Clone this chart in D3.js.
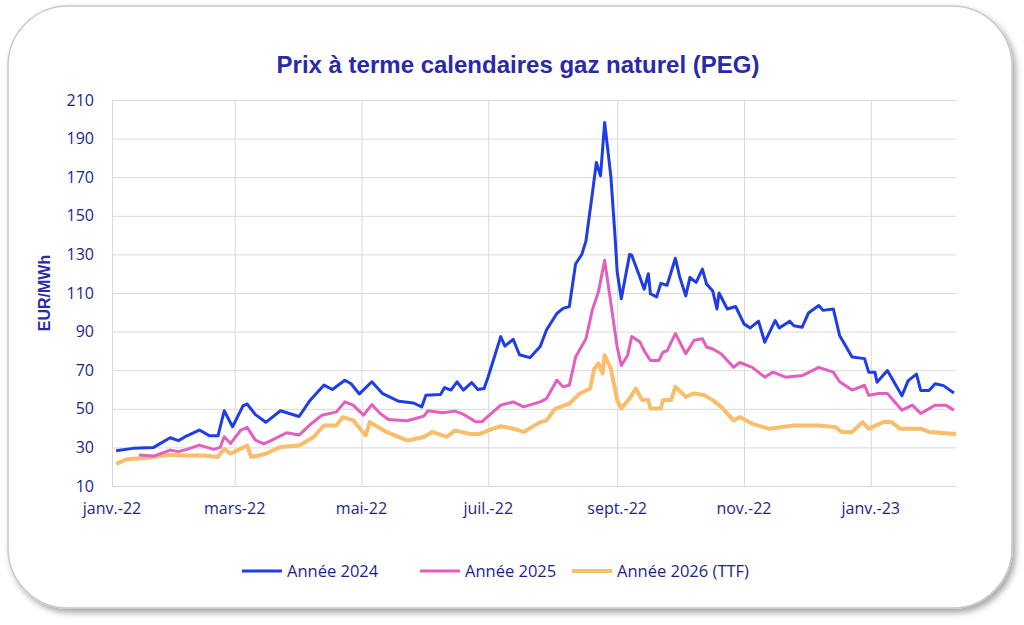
<!DOCTYPE html>
<meta charset="utf-8">
<style>
  body { margin: 0; background: #fff; font-family: "Open Sans", "Noto Sans", sans-serif; }
  .grid line { stroke: #d9d9d9; }
  .grid path { display: none; }
</style>
<script src="https://d3js.org/d3.v7.min.js"></script>
<div id="chart"></div>
<script>
// days since 2022-01-01 and EUR/MWh
var days2024 = [2,10,20,28,32,36,42,47,51,54,58,63,65,69,74,81,90,95,102,106,112,115,119,125,130,138,145,149,151,158,160,163,166,169,173,176,179,181,187,189,193,196,201,206,209,214,217,220,223,226,228,231,233,235,237,240,242,243,245,249,250,254,256,258,259,262,264,267,271,273,276,278,281,284,286,289,291,292,296,300,304,307,311,314,319,321,326,328,332,335,340,342,347,350,356,362,364,367,368,373,380,383,387,389,393,396,400,405];
var val2024 = [28.3,29.5,30,35,33.5,36,39,36,36,49,40.7,51.5,52.5,47,43,49,46,54,62.3,60,64.8,63,57.7,64,58,53.9,53,51,57,57.4,61,59.7,64,59.7,63.6,60,60.5,66.7,87.4,82.5,86,78,76.5,82.3,90.8,99.4,102,103,125,130,137,161,177.6,170.7,198.4,170,139,121,107,130,129.6,118,112,120,109.6,108,115,114,128,118.7,108.5,118,115.5,122.4,114.6,111,101.7,110,101.7,103,94,91.9,95.4,84.5,95.7,91.9,95.4,93,92.3,99.6,103.5,101,101.7,88,76.8,76,69,69,63.8,69.8,56.8,64.6,68,59.5,59.5,63,62,58.2];

var days2025 = [13,20,28,32,36,42,49,52,54,57,62,65,69,73,77,84,90,96,101,108,112,116,121,125,129,133,142,146,150,152,159,165,169,175,178,181,187,193,198,206,209,214,217,220,223,228,231,234,237,240,243,245,248,250,254,256,259,263,265,267,271,276,280,284,286,289,293,299,302,308,314,318,324,332,340,347,350,356,362,364,369,373,380,385,389,396,401,405];
var val2025 = [26,25.5,28.6,27.8,29,31.2,29,30,35.5,32,39,40.4,33.8,31.8,33.8,37.6,36.4,42.4,46.7,48.4,53.6,51.9,46.7,52.2,47.6,44.5,43.8,45,46.2,49,48,48.8,47.2,43.3,43.3,46.2,51.9,53.6,51,53.6,55.3,64.8,61.4,62.2,76.8,86.3,101,110.6,127,104.5,82,72.5,77.6,87.5,84.6,80,75,75,79.3,80,89,78.5,85.5,86.3,82,81,78.5,71.5,74,71.5,66.4,69,66.4,67.2,71.5,69,64,59.7,62.2,57,57.9,57.9,49.3,51.9,47.6,51.9,51.9,49.3];

var days2026 = [2,7,16,27,36,44,51,54,57,65,67,74,81,90,97,102,108,111,116,122,124,132,142,150,154,161,165,172,177,181,187,193,198,206,209,213,220,225,230,232,234,236,237,240,243,245,249,252,255,258,259,264,265,269,271,276,280,285,289,293,299,302,308,316,328,340,348,351,356,361,364,371,375,379,389,393,406];
var val2026 = [21.5,23.8,24.5,26.2,25.8,25.8,25,29.3,26.7,31,25,26.7,30.2,31,35.4,41.4,41.4,45.7,44,36.2,43.1,38,33.6,35.4,38,35.4,38.8,37,37,38.8,41,39.7,38,43.1,44,50,52.7,57.9,60.5,70.8,73.4,68.3,77.7,70.8,54.5,50.2,55.4,60.5,54.5,54.5,50.2,50.2,54.5,54.5,61.4,56.2,58,57,54.5,51,44,45.7,42.2,39.7,41.4,41.4,40.5,38,38,43.1,39.7,43.1,43.1,39.7,39.7,38,37];

var seriesNames = ["Année 2024", "Année 2025", "Année 2026 (TTF)"];
var seriesColors = ["#1f3de6", "#e35fbf", "#f9bd6b"];
var yTicks = [10,30,50,70,90,110,130,150,170,190,210];
var xTickLabels = ["janv.-22","mars-22","mai-22","juil.-22","sept.-22","nov.-22","janv.-23"];

var start = new Date(2022, 0, 1);
var toDate = function(d){ return d3.timeDay.offset(start, d); };
var xTickDates = [0,2,4,6,8,10,12].map(function(m){ return d3.timeMonth.offset(start, m); });

var W = 1024, H = 625;
var svg = d3.select("#chart").append("svg").attr("width", W).attr("height", H);

var defs = svg.append("defs");
var f = defs.append("filter").attr("id", "sh").attr("x", "-5%").attr("y", "-5%").attr("width", "110%").attr("height", "115%");
f.append("feDropShadow").attr("dx", 3).attr("dy", 4).attr("stdDeviation", 3).attr("flood-color", "#000").attr("flood-opacity", 0.35);

svg.append("rect").attr("x", 8).attr("y", 6).attr("width", 1004).attr("height", 602)
  .attr("rx", 60).attr("fill", "#fff").attr("stroke", "#c8c8c8").attr("stroke-width", 1.5)
  .attr("filter", "url(#sh)");

var x = d3.scaleTime().domain([start, toDate(406)]).range([112, 956]);
var y = d3.scaleLinear().domain([10, 210]).range([486, 100]);

svg.append("g").attr("class", "grid")
  .call(d3.axisLeft(y).tickValues(yTicks).tickSize(-(956 - 112)).tickFormat(""))
  .attr("transform", "translate(112,0)");
svg.append("g").attr("class", "grid")
  .call(d3.axisBottom(x).tickValues(xTickDates).tickSize(-(486 - 100)).tickFormat(""))
  .attr("transform", "translate(0,486)");

svg.selectAll(".yl").data(yTicks).join("text")
  .attr("x", 94).attr("y", function(d){ return y(d); }).attr("dy", "0.35em")
  .attr("text-anchor", "end").attr("fill", "#1f1f8a").style("font-size", "16px").text(function(d){ return d; });

svg.selectAll(".xl").data(xTickDates).join("text")
  .attr("x", function(d){ return x(d); }).attr("y", 514)
  .attr("text-anchor", "middle").attr("fill", "#1f1f8a").style("font-size", "16px")
  .text(function(d, i){ return xTickLabels[i]; });

svg.append("text").attr("transform", "translate(50,293) rotate(-90)")
  .attr("text-anchor", "middle").attr("fill", "#2a2aa8").style("font-size", "16px").style("font-weight", "bold")
  .style("font-family", "Liberation Sans, Arial, sans-serif").text("EUR/MWh");

svg.append("text").attr("x", 518).attr("y", 73).attr("text-anchor", "middle")
  .attr("fill", "#2a2aa8").style("font-size", "24px").style("font-weight", "bold")
  .style("font-family", "Liberation Sans, Arial, sans-serif")
  .text("Prix à terme calendaires gaz naturel (PEG)");

var allDays = [days2024, days2025, days2026];
var allVals = [val2024, val2025, val2026];
var line = d3.line().x(function(d){ return x(toDate(d[0])); }).y(function(d){ return y(d[1]); });

[2, 1, 0].forEach(function(i){
  var pts = d3.zip(allDays[i], allVals[i]);
  svg.append("path").datum(pts).attr("d", line)
    .attr("fill", "none").attr("stroke", seriesColors[i])
    .attr("stroke-width", i == 2 ? 4 : 3).attr("stroke-linejoin", "round");
});

var legX = [242, 420, 572];
seriesNames.forEach(function(n, i){
  svg.append("line").attr("x1", legX[i]).attr("x2", legX[i] + 40).attr("y1", 571).attr("y2", 571)
    .attr("stroke", seriesColors[i]).attr("stroke-width", i == 2 ? 4 : 3);
  svg.append("text").attr("x", legX[i] + 45).attr("y", 571).attr("dy", "0.35em")
    .attr("fill", "#1f1f8a").style("font-size", "16.5px").text(n);
});
</script>
